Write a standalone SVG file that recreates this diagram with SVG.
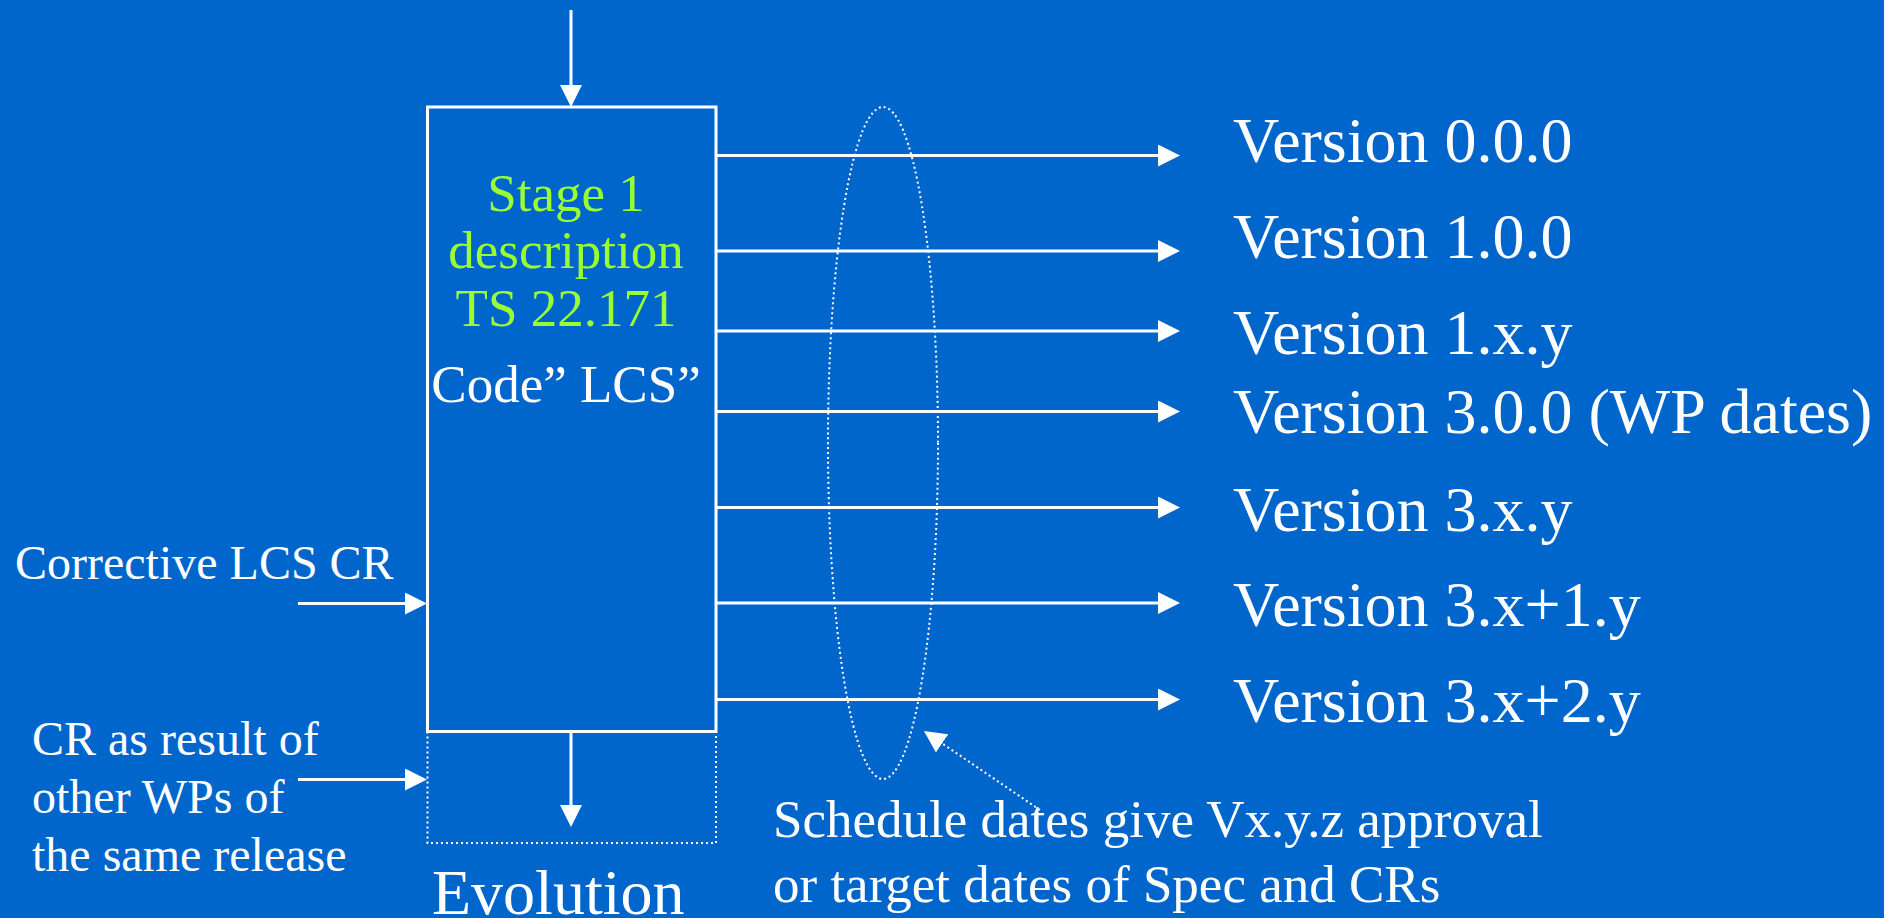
<svg xmlns="http://www.w3.org/2000/svg" width="1899" height="918" viewBox="0 0 1899 918">
<style>
.t{font-family:"Liberation Serif","Times New Roman",serif;fill:#fff}
.g{fill:#99FF33}
.ln{stroke:#fff;stroke-width:3;fill:none}
.dot{stroke:#fff;stroke-width:2;fill:none;stroke-dasharray:2 3}
</style>
<defs>
<marker id="ah" markerUnits="userSpaceOnUse" markerWidth="22" markerHeight="22" refX="2" refY="11" orient="auto" viewBox="0 0 22 22">
<path d="M0,0 L22,11 L0,22 z" fill="#fff"/>
</marker>
</defs>
<rect x="0" y="0" width="1899" height="918" fill="#fff"/>
<rect x="0" y="0" width="1884" height="918" fill="#0066CC"/>

<g id="stage1-box">
<rect x="427.5" y="107" width="288.5" height="624.5" class="ln"/>
<text class="t g" x="566" y="211" font-size="53" text-anchor="middle">Stage 1</text>
<text class="t g" x="566" y="268" font-size="53" text-anchor="middle">description</text>
<text class="t g" x="566" y="326" font-size="53" text-anchor="middle">TS 22.171</text>
<text class="t" x="566" y="402" font-size="53" text-anchor="middle">Code” LCS”</text>
</g>

<g id="evolution-box">
<path d="M427.5,731.5 V843 H716 V731.5" class="dot"/>
<text class="t" x="432" y="914" font-size="64">Evolution</text>
</g>

<g id="schedule-ellipse">
<ellipse cx="883" cy="443" rx="55" ry="336" class="dot"/>
</g>

<g id="versions">
<text class="t" x="1233" y="162" font-size="64">Version 0.0.0</text>
<text class="t" x="1233" y="258" font-size="64">Version 1.0.0</text>
<text class="t" x="1233" y="354" font-size="64">Version 1.x.y</text>
<text class="t" x="1233" y="433" font-size="64">Version 3.0.0 (WP dates)</text>
<text class="t" x="1233" y="531" font-size="64">Version 3.x.y</text>
<text class="t" x="1233" y="626" font-size="64">Version 3.x+1.y</text>
<text class="t" x="1233" y="722" font-size="64">Version 3.x+2.y</text>
</g>

<g id="corrective-label">
<text class="t" x="15" y="579" font-size="48">Corrective LCS CR</text>
</g>

<g id="cr-label">
<text class="t" x="32" y="755" font-size="48">CR as result of</text>
<text class="t" x="32" y="813" font-size="48">other WPs of</text>
<text class="t" x="32" y="871" font-size="48">the same release</text>
</g>

<g id="schedule-label">
<text class="t" x="773" y="837" font-size="53">Schedule dates give Vx.y.z approval</text>
<text class="t" x="773" y="902" font-size="53">or target dates of Spec and CRs</text>
</g>

<g id="connectors">
<line x1="571" y1="10" x2="571" y2="87" class="ln" marker-end="url(#ah)"/>
<line x1="571" y1="731.5" x2="571" y2="807" class="ln" marker-end="url(#ah)"/>
<line x1="716" y1="155.5" x2="1160" y2="155.5" class="ln" marker-end="url(#ah)"/>
<line x1="716" y1="251" x2="1160" y2="251" class="ln" marker-end="url(#ah)"/>
<line x1="716" y1="331" x2="1160" y2="331" class="ln" marker-end="url(#ah)"/>
<line x1="716" y1="411.5" x2="1160" y2="411.5" class="ln" marker-end="url(#ah)"/>
<line x1="716" y1="507.5" x2="1160" y2="507.5" class="ln" marker-end="url(#ah)"/>
<line x1="716" y1="603" x2="1160" y2="603" class="ln" marker-end="url(#ah)"/>
<line x1="716" y1="699.5" x2="1160" y2="699.5" class="ln" marker-end="url(#ah)"/>
<line x1="298" y1="603.5" x2="407" y2="603.5" class="ln" marker-end="url(#ah)"/>
<line x1="298" y1="779.5" x2="407" y2="779.5" class="ln" marker-end="url(#ah)"/>
<line x1="1040" y1="810" x2="940.5" y2="742.3" class="dot" marker-end="url(#ah)"/>
</g>
</svg>
